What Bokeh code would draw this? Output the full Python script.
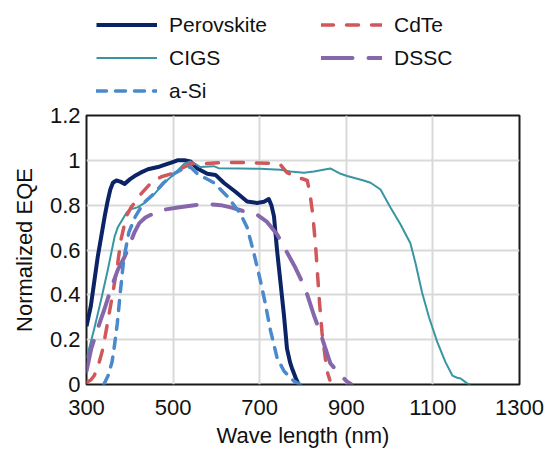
from bokeh.plotting import figure
from bokeh.layouts import column
from bokeh.models import Range1d, FixedTicker, Legend, LegendItem
from bokeh.embed import file_html
from bokeh.resources import INLINE

# ---- data ----
perov_x = [300, 310, 318, 326, 334, 342, 349, 355, 361, 369, 378, 388, 400, 411, 425, 442, 465, 480, 496, 510, 526, 540, 555, 579, 598, 617, 644, 671, 694, 710, 721, 727, 733, 740, 748, 756, 763, 770, 775, 783, 790]
perov_y = [0.26, 0.35, 0.46, 0.57, 0.66, 0.75, 0.82, 0.87, 0.90, 0.91, 0.905, 0.895, 0.915, 0.93, 0.945, 0.96, 0.97, 0.98, 0.99, 1.0, 1.0, 0.995, 0.965, 0.94, 0.935, 0.90, 0.86, 0.816, 0.81, 0.815, 0.827, 0.80, 0.75, 0.60, 0.455, 0.31, 0.16, 0.10, 0.07, 0.03, 0.0]

cigs_x = [300, 318, 334, 349, 365, 372, 392, 399, 418, 434, 457, 480, 503, 526, 540, 550, 563, 594, 605, 656, 700, 748, 771, 802, 825, 863, 887, 902, 940, 956, 979, 1002, 1025, 1048, 1060, 1075, 1091, 1110, 1129, 1145, 1156, 1164, 1179, 1187]
cigs_y = [0.115, 0.25, 0.38, 0.51, 0.66, 0.70, 0.765, 0.78, 0.79, 0.81, 0.85, 0.90, 0.94, 0.985, 0.995, 0.985, 0.97, 0.974, 0.965, 0.964, 0.962, 0.958, 0.95, 0.945, 0.95, 0.964, 0.94, 0.93, 0.91, 0.90, 0.87, 0.79, 0.715, 0.63, 0.54, 0.41, 0.30, 0.19, 0.10, 0.04, 0.03, 0.027, 0.005, 0.0]

asi_x = [340, 350, 359, 365, 371, 378, 386, 398, 413, 432, 455, 478, 502, 525, 540, 556, 575, 594, 625, 656, 671, 686, 702, 713, 725, 740, 756, 779, 794]
asi_y = [0.0, 0.04, 0.10, 0.18, 0.27, 0.41, 0.56, 0.68, 0.75, 0.81, 0.85, 0.90, 0.94, 0.965, 0.97, 0.94, 0.92, 0.90, 0.84, 0.76, 0.70, 0.59, 0.46, 0.36, 0.24, 0.12, 0.06, 0.015, 0.0]

cdte_x = [300, 310, 318, 328, 338, 349, 361, 372, 380, 392, 403, 426, 449, 473, 496, 519, 542, 570, 609, 671, 733, 748, 763, 787, 810, 817, 823, 829, 834, 838, 844, 852, 857, 862]
cdte_y = [0.01, 0.02, 0.04, 0.09, 0.16, 0.28, 0.41, 0.54, 0.65, 0.75, 0.79, 0.85, 0.90, 0.927, 0.94, 0.964, 0.985, 0.985, 0.99, 0.99, 0.986, 0.98, 0.945, 0.925, 0.91, 0.84, 0.75, 0.62, 0.48, 0.37, 0.23, 0.11, 0.05, 0.02]

dssc_x = [300, 311, 326, 342, 357, 372, 388, 399, 411, 422, 436, 457, 480, 511, 549, 579, 610, 633, 660, 694, 717, 740, 760, 780, 795, 810, 825, 840, 852, 863, 880, 902, 912]
dssc_y = [0.06, 0.16, 0.25, 0.34, 0.43, 0.51, 0.57, 0.62, 0.68, 0.72, 0.745, 0.765, 0.78, 0.79, 0.80, 0.805, 0.80, 0.79, 0.775, 0.757, 0.725, 0.67, 0.60, 0.53, 0.47, 0.40, 0.31, 0.23, 0.16, 0.095, 0.056, 0.012, 0.0]

series_names = ["Perovskite", "CIGS", "a-Si", "CdTe", "DSSC"]

x_ticks = [300, 500, 700, 900, 1100, 1300]
y_ticks = [0, 0.2, 0.4, 0.6, 0.8, 1, 1.2]
y_tick_labels = ["0", "0.2", "0.4", "0.6", "0.8", "1", "1.2"]

FONT = "Liberation Sans"

styles = {
    "Perovskite": dict(line_color="#0c2366", line_width=4, line_join="round"),
    "CIGS": dict(line_color="#3896a3", line_width=2, line_join="round"),
    "CdTe": dict(line_color="#d0575a", line_width=3.5, line_dash="12 13", line_cap="round", line_join="round"),
    "DSSC": dict(line_color="#8767ab", line_width=4, line_dash="31 16", line_cap="round", line_join="round"),
    "a-Si": dict(line_color="#4a89cc", line_width=3.5, line_dash="10 9", line_cap="round", line_join="round"),
}
data = {
    "Perovskite": (perov_x, perov_y),
    "CIGS": (cigs_x, cigs_y),
    "CdTe": (cdte_x, cdte_y),
    "DSSC": (dssc_x, dssc_y),
    "a-Si": (asi_x, asi_y),
}

# ---- main chart ----
p = figure(width=544, height=348, x_range=Range1d(300, 1300), y_range=Range1d(0, 1.2),
           output_backend="svg", toolbar_location=None,
           min_border_left=86, min_border_right=25, min_border_top=13, min_border_bottom=64)
p.background_fill_color = "white"
p.border_fill_color = "white"
p.outline_line_color = "#1a1a1a"
p.outline_line_width = 2

p.xaxis.ticker = FixedTicker(ticks=x_ticks)
p.yaxis.ticker = FixedTicker(ticks=y_ticks)
p.yaxis.major_label_overrides = {t: s for t, s in zip(y_ticks, y_tick_labels)}
p.xgrid.ticker = FixedTicker(ticks=x_ticks)
p.ygrid.ticker = FixedTicker(ticks=y_ticks)
for g in (p.xgrid, p.ygrid):
    g.grid_line_color = "#d9d9d9"
    g.grid_line_width = 2

for ax in (p.xaxis, p.yaxis):
    ax.axis_line_color = None
    ax.major_tick_line_color = None
    ax.minor_tick_line_color = None
    ax.major_tick_out = 0
    ax.major_tick_in = 0
    ax.major_label_text_font = FONT
    ax.major_label_text_font_size = "22px"
    ax.major_label_text_color = "#111111"
    ax.axis_label_text_font = FONT
    ax.axis_label_text_font_size = "22px"
    ax.axis_label_text_font_style = "normal"
    ax.axis_label_text_color = "#111111"

p.xaxis.axis_label = "Wave length (nm)"
p.yaxis.axis_label = "Normalized EQE"
p.xaxis.major_label_standoff = 15
p.yaxis.major_label_standoff = 6
p.xaxis.axis_label_standoff = 5
p.yaxis.axis_label_standoff = 10

for name in ["Perovskite", "CIGS", "CdTe", "DSSC", "a-Si"]:
    xs, ys = data[name]
    p.line(xs, ys, **styles[name])

# ---- legend strip above the chart (series drawn off-range; only the legend shows) ----
lg = figure(width=544, height=102, x_range=Range1d(0, 1), y_range=Range1d(0, 1),
            x_axis_type=None, y_axis_type=None,
            output_backend="svg", toolbar_location=None,
            min_border_left=0, min_border_right=0, min_border_top=0, min_border_bottom=0)
lg.grid.visible = False
lg.outline_line_color = None
lg.background_fill_color = "white"
lg.border_fill_color = "white"

items = []
for name in series_names:
    xs, ys = data[name]
    r = lg.line(xs, ys, **styles[name])
    items.append(LegendItem(label=name, renderers=[r]))

legend = Legend(items=items, location=(10, -5), orientation="vertical", ncols=2)
legend.padding = 0
legend.spacing = 0
legend.margin = 0
legend.glyph_width = 61
legend.glyph_height = 33
legend.label_height = 33
legend.label_width = 152
legend.label_standoff = 12
legend.label_text_font = FONT
legend.label_text_font_size = "21px"
legend.label_text_color = "#111111"
legend.border_line_color = None
legend.background_fill_alpha = 0
lg.add_layout(legend)

layout = column(lg, p, spacing=0)
open("out.html", "w").write(file_html(layout, INLINE))
